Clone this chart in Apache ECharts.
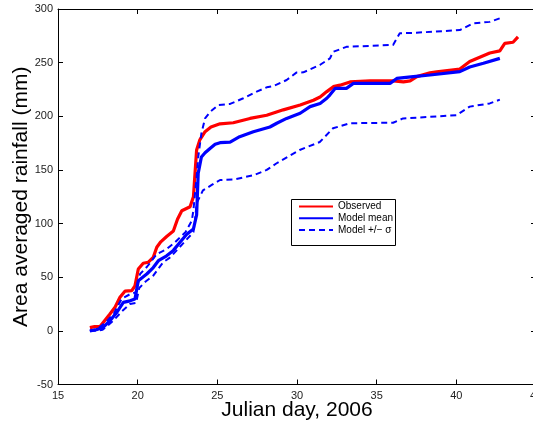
<!DOCTYPE html>
<html>
<head>
<meta charset="utf-8">
<script src="https://cdn.jsdelivr.net/npm/echarts@6/dist/echarts.min.js"></script>
<style>html,body{margin:0;padding:0;background:#fff}#c{width:533px;height:428px}</style>
</head>
<body>
<div id="c"></div>
<script>
// Observed
var obsDay = [17.0, 17.3, 17.64, 17.85, 18.26, 18.58, 18.89, 19.2, 19.63, 19.83, 20.04, 20.35, 20.67, 20.98, 21.2, 21.45, 21.82, 22.24, 22.5, 22.77, 23.29, 23.5, 23.6, 23.7, 23.9, 24.23, 24.6, 25.17, 26.0, 27.05, 28.1, 29.14, 30.2, 31.03, 31.45, 31.87, 32.28, 32.7, 33.33, 34.59, 36.05, 36.68, 37.1, 37.52, 38.35, 38.77, 40.22, 40.84, 41.47, 42.1, 42.73, 43.04, 43.56, 43.87];
var obsVal = [3, 4, 4, 8, 15.7, 22, 31.3, 37, 37.5, 42, 57.7, 63, 64, 68.6, 78, 83, 88, 93, 104, 112, 115.7, 125, 147, 168.6, 178, 185.6, 190, 193, 194, 198, 201, 206, 210.5, 215, 218, 223, 227.6, 229, 232, 233, 233, 232, 233, 237, 240.5, 241.5, 244, 251, 255, 259, 261, 268, 269, 274];
// Model mean
var meanDay = [17.0, 17.4, 17.85, 18.26, 18.68, 19.1, 19.52, 19.83, 20.04, 20.57, 20.98, 21.3, 21.82, 22.24, 22.66, 23.08, 23.5, 23.7, 23.8, 24.0, 24.23, 24.54, 24.86, 25.17, 25.8, 26.4, 27.26, 28.3, 28.73, 29.35, 30.2, 30.82, 31.45, 31.87, 32.07, 32.39, 33.1, 33.54, 35.84, 36.26, 37.3, 38.35, 40.22, 40.84, 41.7, 42.73];
var meanVal = [0, 1, 3.4, 9.5, 17, 26.6, 28, 29.7, 46.8, 53, 59, 65.4, 70, 75, 82.5, 90, 95, 108, 147, 162, 166, 170, 174, 175.4, 176, 181, 185.6, 190, 193.5, 198, 202.8, 209, 212, 216.8, 220, 226, 226, 230.7, 230.7, 235.3, 236.9, 238.5, 241.6, 246, 249.4, 254];
// Model + sigma
var upDay = [17.0, 17.5, 18.0, 18.5, 19.0, 19.5, 19.9, 20.15, 20.6, 21.2, 21.8, 22.3, 22.66, 23.0, 23.4, 23.5, 23.7, 23.8, 24.0, 24.23, 24.54, 25.06, 25.8, 26.63, 27.47, 28.1, 28.5, 29.35, 29.96, 30.4, 31.43, 32.07, 32.26, 33.1, 36.03, 36.45, 37.5, 40.22, 41.05, 42.1, 42.73];
var upVal = [0, 2, 8, 16, 30, 34, 36, 53, 60, 71.6, 76, 82, 87, 92, 102.7, 112.7, 143.7, 162, 184, 198, 204, 210.5, 211.5, 216.8, 223, 227, 228, 233.8, 240.7, 241, 247.8, 254, 260, 264.7, 266.5, 277.3, 277.9, 280.4, 286.6, 288, 291.3];
// Model - sigma
var loDay = [17.0, 17.43, 17.8, 18.47, 19.0, 19.52, 19.9, 20.1, 20.5, 20.98, 21.6, 22.0, 22.45, 23.0, 23.5, 23.6, 23.7, 24.1, 24.65, 25.17, 26.0, 27.26, 28.1, 28.7, 30.17, 31.43, 32.26, 33.3, 36.03, 36.66, 40.0, 40.84, 42.1, 42.73];
var loVal = [0, 0, 1, 9.5, 18, 25, 26, 40, 46, 51.5, 64, 68, 75, 84, 92, 103, 119, 131, 136, 140.6, 141, 145, 150, 156, 168.6, 176, 188.8, 193.5, 194, 198, 201, 209, 212, 215.5];
var xTicks = [15, 20, 25, 30, 35, 40, 45];
var yTicks = [-50, 0, 50, 100, 150, 200, 250, 300];

function pairs(a, b) { return a.map(function (d, i) { return [d, b[i]]; }); }

var FONT = '"Liberation Sans", Arial, Helvetica, sans-serif';
var chart = echarts.init(document.getElementById('c'), null, {renderer: 'canvas'});
var axisCommon = {
  axisLine: {show: true, onZero: false, lineStyle: {color: '#000', width: 1}},
  axisTick: {show: true, inside: true, length: 5, lineStyle: {color: '#000'}},
  splitLine: {show: false}
};
chart.setOption({
  animation: false,
  backgroundColor: '#fff',
  textStyle: {fontFamily: FONT},
  grid: {left: 58, top: 9, width: 478, height: 375.5, containLabel: false, outerBoundsMode: 'none'},
  xAxis: [
    Object.assign({type: 'value', min: xTicks[0], max: xTicks[xTicks.length - 1], interval: 5, position: 'bottom',
      name: 'Julian day, 2006', nameLocation: 'middle', nameGap: 15, nameMoveOverlap: false,
      nameTextStyle: {fontSize: 21, color: '#000', fontFamily: FONT, verticalAlign: 'top'},
      axisLabel: {fontSize: 11, color: '#222', margin: 5.5, fontFamily: FONT, hideOverlap: false}}, axisCommon),
    Object.assign({type: 'value', min: xTicks[0], max: xTicks[xTicks.length - 1], interval: 5, position: 'top',
      axisLabel: {show: false}}, axisCommon)
  ],
  yAxis: [
    Object.assign({type: 'value', min: yTicks[0], max: yTicks[yTicks.length - 1], interval: 50, position: 'left',
      name: 'Area averaged rainfall (mm)', nameLocation: 'middle', nameGap: 26, nameMoveOverlap: false,
      nameTextStyle: {fontSize: 21, color: '#000', fontFamily: FONT},
      axisLabel: {fontSize: 11, color: '#222', margin: 5, fontFamily: FONT}}, axisCommon),
    Object.assign({type: 'value', min: yTicks[0], max: yTicks[yTicks.length - 1], interval: 50, position: 'right',
      axisLabel: {show: false}}, axisCommon)
  ],
  legend: {
    orient: 'vertical', left: 298, top: 201, padding: 0, itemGap: 0.5,
    itemWidth: 34, itemHeight: 14, z: 10,
    itemStyle: {opacity: 0, borderWidth: 0},
    data: ['Observed', 'Model mean', 'Model +/\u2212 \u03c3'],
    textStyle: {fontSize: 10, color: '#000', fontFamily: FONT}
  },
  graphic: [{
    type: 'rect', z: 5, shape: {x: 291.5, y: 199.5, width: 104, height: 46},
    style: {fill: '#fff', stroke: '#000', lineWidth: 1}
  }],
  series: [
    {name: 'Observed', type: 'line', data: pairs(obsDay, obsVal), showSymbol: false, symbol: 'none',
      lineStyle: {color: '#ff0000', width: 3.2}, itemStyle: {color: '#ff0000'}},
    {name: 'Model mean', type: 'line', data: pairs(meanDay, meanVal), showSymbol: false, symbol: 'none',
      lineStyle: {color: '#0000ff', width: 3.2}, itemStyle: {color: '#0000ff'}},
    {name: 'Model +/\u2212 \u03c3', type: 'line', data: pairs(upDay, upVal), showSymbol: false, symbol: 'none',
      lineStyle: {color: '#0000ff', width: 2, type: [6, 4]}, itemStyle: {color: '#0000ff'}},
    {name: 'Model +/\u2212 \u03c3', type: 'line', data: pairs(loDay, loVal), showSymbol: false, symbol: 'none',
      lineStyle: {color: '#0000ff', width: 2, type: [6, 4]}, itemStyle: {color: '#0000ff'}}
  ]
});
</script>
</body>
</html>
